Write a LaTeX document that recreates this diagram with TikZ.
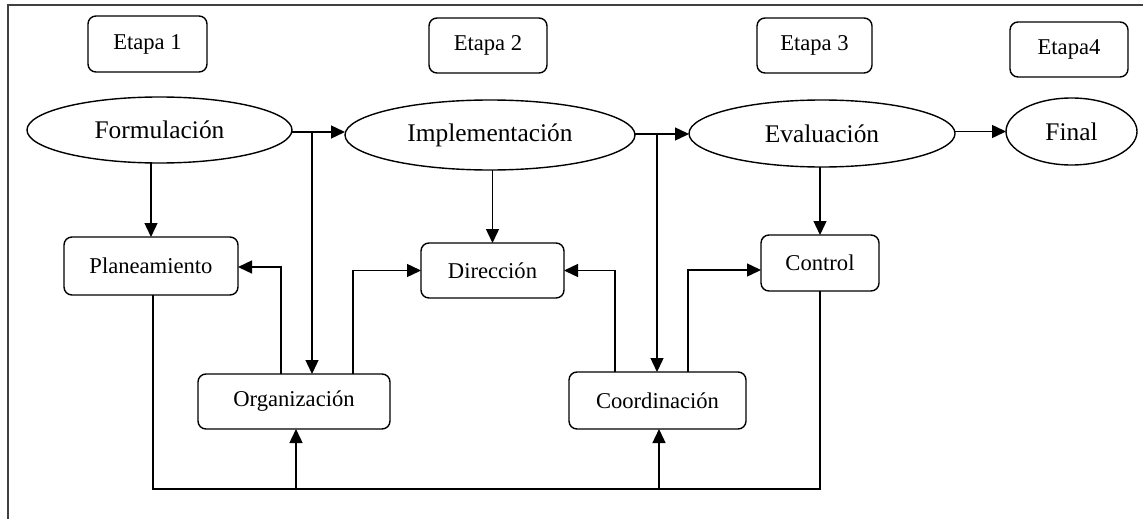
\documentclass[tikz,border=0pt]{standalone}
\usepackage{fontspec}
\setmainfont{Liberation Serif}
\usetikzlibrary{arrows.meta,shapes.geometric,calc}
\begin{document}
\begin{tikzpicture}[x=0.5pt,y=-0.5pt,
  every node/.style={inner sep=0pt,outer sep=0pt},
  box/.style={draw,rounded corners=4pt,line width=0.7pt,font=\fontsize{11.3}{13}\selectfont},
  oval/.style={draw,ellipse,line width=0.7pt,font=\fontsize{12.7}{15}\selectfont},
  ln/.style={line width=0.7pt},
  arr/.style={ln,-{Triangle[length=7pt,width=6.5pt]}}]
\useasboundingbox (0,0) rectangle (1143,519);
\draw[line width=1pt,draw=black!75] (8,519) -- (8,5.5) -- (1143,5.5);
% stage boxes
\node[box,minimum width=59.5pt,minimum height=28pt] (e1) at (147.5,44) {Etapa 1};
\node[box,minimum width=59pt,minimum height=27.5pt] (e2) at (488,45.5) {Etapa 2};
\node[box,minimum width=57.5pt,minimum height=27.5pt] (e3) at (814.5,45.5) {Etapa 3};
\node[box,minimum width=59pt,minimum height=27.5pt] (e4) at (1069,49.5) {Etapa4};
% ellipses
\node[oval,minimum width=132.5pt,minimum height=33pt] (F) at (159.5,130) {Formulación};
\node[oval,minimum width=145pt,minimum height=35pt] (I) at (490,135) {Implementación};
\node[oval,minimum width=133pt,minimum height=33.5pt] (E) at (822,133.5) {Evaluación};
\node[oval,minimum width=65.5pt,minimum height=33.5pt] (Fi) at (1071.5,131.5) {Final};
% function boxes
\node[box,minimum width=87pt,minimum height=29pt] (P) at (151,266) {Planeamiento};
\node[box,minimum width=96pt,minimum height=27.5pt] (O) at (294,401.5) {Organización};
\node[box,minimum width=71.5pt,minimum height=27.5pt] (D) at (492.5,270.5) {Dirección};
\node[box,minimum width=88.5pt,minimum height=28.5pt] (C) at (657.5,400.5) {Coordinación};
\node[box,minimum width=59pt,minimum height=28pt] (K) at (820,263) {Control};
% junction coordinates
\coordinate (j1) at (312,132);
\coordinate (j2) at (657,134);
\coordinate (b) at (153,489);
\coordinate (bo) at (296,489);
\coordinate (bc) at (659,489);
\coordinate (oP) at (281,0);
\coordinate (oD) at (353,0);
\coordinate (cD) at (615,0);
\coordinate (cK) at (688,0);
% top flow
\draw[arr] (F.east |- j1) -- (j1) -- (j1 -| I.west);
\draw[arr] (I.east |- j2) -- (j2) -- (j2 -| E.west);
\draw[arr] (E.east |- Fi.west) -- (Fi.west);
\draw[arr] (j1) -- (j1 |- O.north);
\draw[arr] (j2) -- (j2 |- C.north);
% down arrows
\draw[arr] (F.south -| P.north) -- (P.north);
\draw[arr] (I.south -| D.north) -- (D.north);
\draw[arr] (E.south -| K.north) -- (K.north);
% from organization / coordination
\draw[arr] (oP |- O.north) |- ($(P.east)+(0,1)$);
\draw[arr] (oD |- O.north) |- (D.west);
\draw[arr] (cD |- C.north) |- (D.east);
\draw[arr] (cK |- C.north) |- ($(K.west)+(0,7)$);
% bottom feedback
\draw[ln] (b |- P.south) -- (b) -- (b -| K.south) -- (K.south);
\draw[arr] (bo) -- (bo |- O.south);
\draw[arr] (bc) -- (bc |- C.south);
\end{tikzpicture}
\end{document}
